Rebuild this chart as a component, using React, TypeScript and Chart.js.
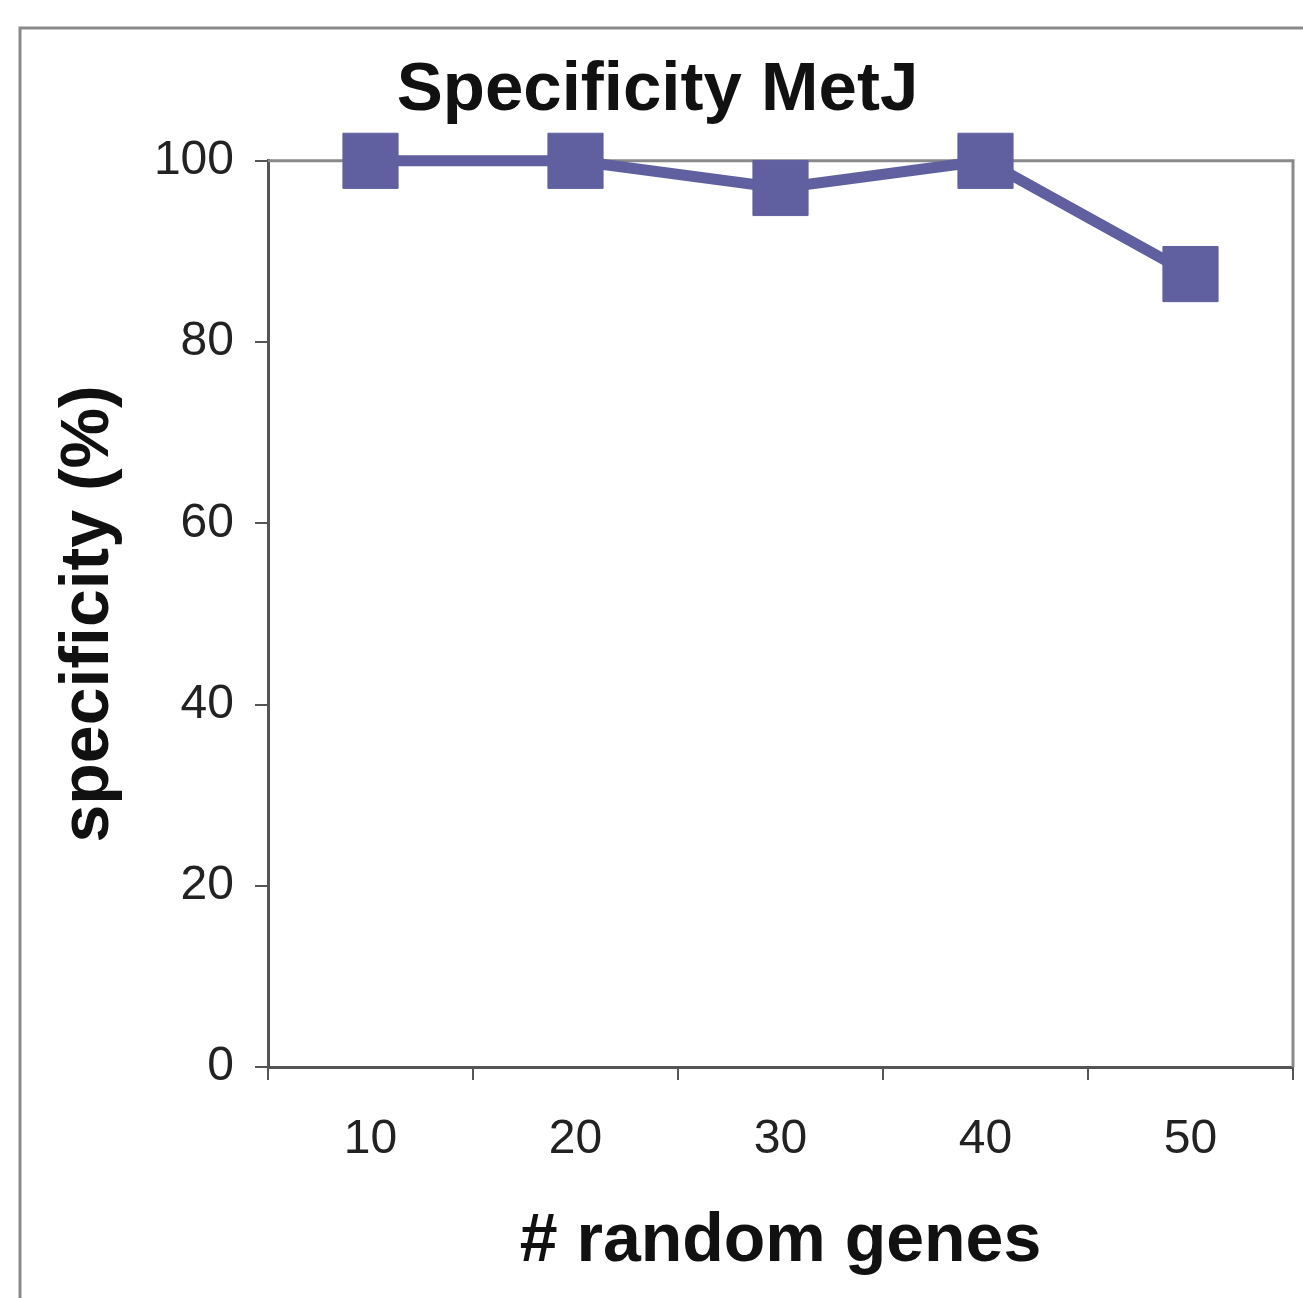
import React, { useEffect, useRef } from "react";
import { Chart, registerables } from "chart.js";

Chart.register(...registerables);

const categories = ["10", "20", "30", "40", "50"];
const specificity = [100, 100, 97, 100, 87.5];
const yTicks = [0, 20, 40, 60, 80, 100];

const SERIES_COLOR = "#6060A0";
const FONT = "'Liberation Sans', Arial, sans-serif";

const framePlugin = {
  id: "frame",
  beforeDraw(chart: any) {
    const { ctx, width, height } = chart;
    ctx.save();
    ctx.fillStyle = "#ffffff";
    ctx.fillRect(0, 0, width, height);
    ctx.strokeStyle = "#8a8a8a";
    ctx.lineWidth = 3;
    ctx.beginPath();
    ctx.moveTo(20, height + 5);
    ctx.lineTo(20, 28);
    ctx.lineTo(width + 5, 28);
    ctx.stroke();
    ctx.restore();
  },
  beforeDatasetsDraw(chart: any) {
    const { ctx, chartArea } = chart;
    ctx.save();
    ctx.strokeStyle = "#8a8a8a";
    ctx.lineWidth = 3;
    ctx.beginPath();
    ctx.moveTo(chartArea.left, chartArea.top);
    ctx.lineTo(chartArea.right, chartArea.top);
    ctx.lineTo(chartArea.right, chartArea.bottom);
    ctx.stroke();
    ctx.restore();
  },
};

export default function App() {
  const canvasRef = useRef<HTMLCanvasElement | null>(null);

  useEffect(() => {
    if (!canvasRef.current) return;
    const chart = new Chart(canvasRef.current, {
      type: "line",
      data: {
        labels: categories,
        datasets: [
          {
            label: "Specificity MetJ",
            data: specificity,
            borderColor: SERIES_COLOR,
            backgroundColor: SERIES_COLOR,
            borderWidth: 11,
            pointStyle: "rect",
            pointRadius: 39,
            pointBorderWidth: 1,
            pointBorderColor: SERIES_COLOR,
            pointBackgroundColor: SERIES_COLOR,
            tension: 0,
            clip: false,
          } as any,
        ],
      },
      options: {
        responsive: false,
        animation: false,
        layout: { autoPadding: false, padding: { left: 22, right: 10, top: 0, bottom: 0 } },
        plugins: {
          legend: { display: false },
          tooltip: { enabled: false },
          title: {
            display: true,
            text: "Specificity MetJ",
            color: "#111111",
            font: { family: FONT, size: 69, weight: "bold", lineHeight: 1.2 },
            padding: { top: 50, bottom: 28 },
          },
        },
        scales: {
          x: {
            type: "category",
            offset: true,
            grid: {
              offset: true,
              drawOnChartArea: false,
              tickLength: 13,
              color: "#555555",
              lineWidth: 2,
            },
            border: { display: true, color: "#555555", width: 3 },
            ticks: {
              color: "#222222",
              padding: 31,
              font: { family: FONT, size: 48, lineHeight: 1.2 },
            },
            title: {
              display: true,
              text: "# random genes",
              color: "#111111",
              font: { family: FONT, size: 68, weight: "bold", lineHeight: 1.2 },
              padding: { top: 0, bottom: 15 },
            },
            afterFit: (scale: any) => {
              scale.height = 231;
              scale.paddingLeft = 0;
              scale.paddingRight = 0;
            },
          },
          y: {
            min: 0,
            max: 100,
            afterBuildTicks: (scale: any) => {
              scale.ticks = yTicks.map((v) => ({ value: v }));
            },
            grid: {
              drawOnChartArea: false,
              tickLength: 13,
              color: "#555555",
              lineWidth: 2,
            },
            border: { display: true, color: "#555555", width: 3 },
            ticks: {
              color: "#222222",
              padding: 21,
              font: { family: FONT, size: 48, lineHeight: 1.2 },
            },
            title: {
              display: true,
              text: "specificity (%)",
              color: "#111111",
              font: { family: FONT, size: 68, weight: "bold", lineHeight: 1.2 },
              padding: { top: 26, bottom: 0 },
            },
            afterFit: (scale: any) => {
              scale.width = 246;
            },
          },
        },
      },
      plugins: [framePlugin],
    });
    return () => chart.destroy();
  }, []);

  return (
    <div style={{ position: "absolute", left: 0, top: 0, width: 1303, height: 1298, background: "#ffffff" }}>
      <canvas ref={canvasRef} width={1303} height={1298} style={{ display: "block" }} />
    </div>
  );
}
